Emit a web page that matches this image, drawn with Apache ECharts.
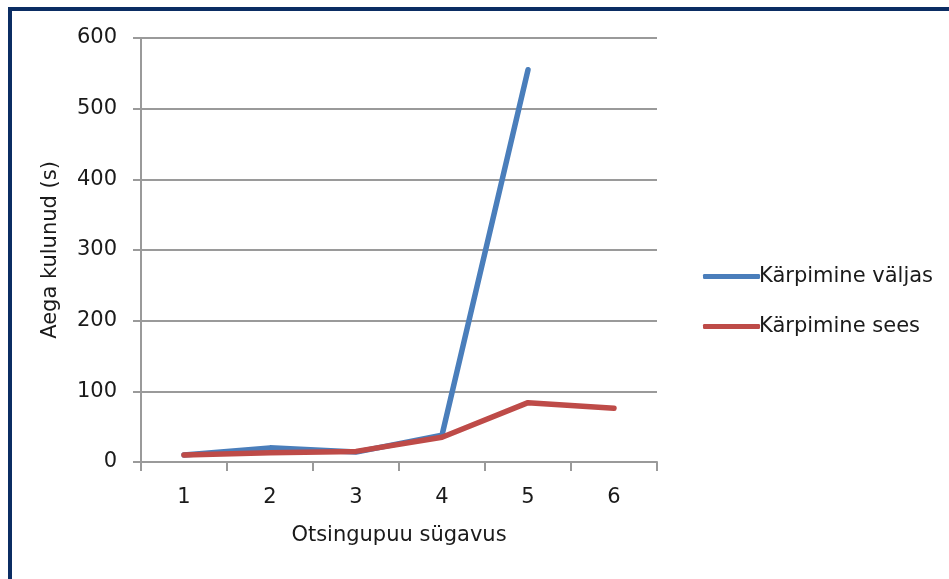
<!DOCTYPE html>
<html>
<head>
<meta charset="utf-8">
<script src="https://cdn.jsdelivr.net/npm/echarts@6/dist/echarts.min.js"></script>
<style>
  html, body { margin: 0; padding: 0; background: #ffffff; }
  #chart { width: 949px; height: 579px; }
</style>
</head>
<body>
<div id="chart"></div>
<script>
// Search-tree depth vs. elapsed time, pruning off / on
const depths = ['1', '2', '3', '4', '5', '6'];
const pruningOff = [10, 20, 14, 38, 555, null];
const pruningOn = [10, 13, 15, 35, 84, 76];
const seriesNames = ['Kärpimine väljas', 'Kärpimine sees'];
const yTicks = [0, 100, 200, 300, 400, 500, 600];

const FONT = '"DejaVu Sans", "Open Sans", sans-serif';
const FONT_SIZE = 21;
const TEXT_COLOR = '#1a1a1a';
const AXIS_GRAY = '#9a9a9a';

const chart = echarts.init(document.getElementById('chart'), null, { renderer: 'canvas' });

chart.setOption({
  backgroundColor: '#ffffff',
  animation: false,
  textStyle: { fontFamily: FONT, color: TEXT_COLOR },
  graphic: [{
    type: 'rect',
    shape: { x: 10, y: 9, width: 1000, height: 700 },
    style: { fill: 'none', stroke: '#0b2d63', lineWidth: 4 },
    silent: true
  }],
  grid: { left: 141, right: 292, top: 38, bottom: 117, containLabel: false },
  legend: {
    orient: 'vertical',
    left: 698,
    top: 261,
    itemWidth: 57,
    itemHeight: 5,
    itemGap: 29,
    icon: 'roundRect',
    data: seriesNames,
    textStyle: { fontFamily: FONT, fontSize: FONT_SIZE, color: TEXT_COLOR, padding: [0, 0, 0, -6], lineHeight: 21 }
  },
  xAxis: {
    type: 'category',
    data: depths,
    boundaryGap: true,
    name: 'Otsingupuu sügavus',
    nameLocation: 'middle',
    nameGap: 63,
    nameTextStyle: { fontFamily: FONT, fontSize: FONT_SIZE, color: TEXT_COLOR },
    axisLine: { lineStyle: { color: AXIS_GRAY, width: 2 } },
    axisTick: { show: true, interval: 0, length: 9, lineStyle: { color: AXIS_GRAY, width: 2 } },
    axisLabel: { fontFamily: FONT, fontSize: FONT_SIZE, color: TEXT_COLOR, margin: 25 },
    splitLine: { show: false }
  },
  yAxis: {
    type: 'value',
    min: yTicks[0],
    max: yTicks[yTicks.length - 1],
    interval: 100,
    name: 'Aega kulunud (s)',
    nameLocation: 'middle',
    nameGap: 80,
    nameRotate: 90,
    nameTextStyle: { fontFamily: FONT, fontSize: FONT_SIZE, color: TEXT_COLOR },
    axisLine: { show: true, lineStyle: { color: AXIS_GRAY, width: 2 } },
    axisTick: { show: true, length: 8, lineStyle: { color: AXIS_GRAY, width: 2 } },
    axisLabel: { fontFamily: FONT, fontSize: FONT_SIZE, color: TEXT_COLOR, margin: 24, padding: [5, 0, 0, 0] },
    splitLine: { show: true, lineStyle: { color: AXIS_GRAY, width: 2 } }
  },
  series: [
    {
      name: seriesNames[0],
      type: 'line',
      data: pruningOff,
      showSymbol: false,
      symbol: 'none',
      connectNulls: false,
      lineStyle: { color: '#4a7ebb', width: 5.5, cap: 'round', join: 'round' },
      itemStyle: { color: '#4a7ebb' },
      z: 2
    },
    {
      name: seriesNames[1],
      type: 'line',
      data: pruningOn,
      showSymbol: false,
      symbol: 'none',
      lineStyle: { color: '#be4b48', width: 5.5, cap: 'round', join: 'round' },
      itemStyle: { color: '#be4b48' },
      z: 3
    }
  ]
});
</script>
</body>
</html>
